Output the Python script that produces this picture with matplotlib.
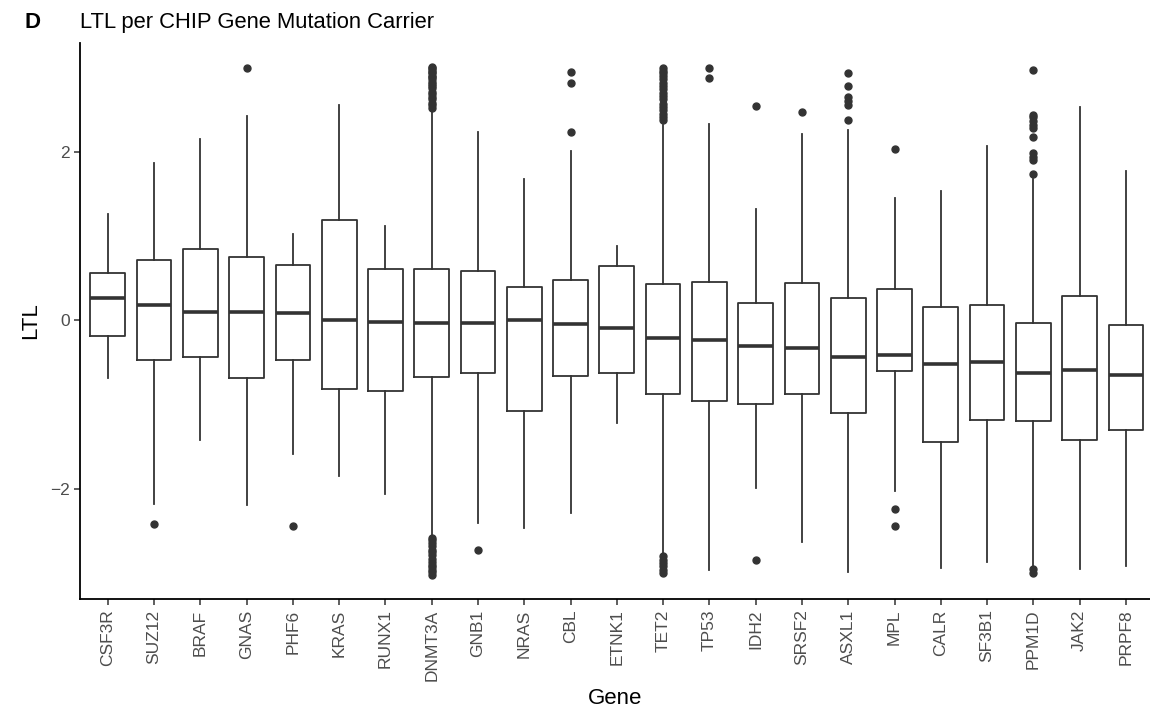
import matplotlib.pyplot as plt

plt.rcParams["font.family"] = ["Liberation Sans", "DejaVu Sans"]

genes = ["CSF3R", "SUZ12", "BRAF", "GNAS", "PHF6", "KRAS", "RUNX1", "DNMT3A",
         "GNB1", "NRAS", "CBL", "ETNK1", "TET2", "TP53", "IDH2", "SRSF2",
         "ASXL1", "MPL", "CALR", "SF3B1", "PPM1D", "JAK2", "PRPF8"]

whis_low = [-0.69, -2.18, -1.42, -2.19, -1.59, -1.85, -2.06, -2.55,
            -2.40, -2.46, -2.28, -1.22, -2.78, -2.96, -1.99, -2.63,
            -2.99, -2.02, -2.94, -2.87, -2.92, -2.95, -2.92]
q1 = [-0.19, -0.47, -0.43, -0.68, -0.475, -0.82, -0.835, -0.675,
      -0.62, -1.08, -0.665, -0.63, -0.87, -0.96, -0.99, -0.88,
      -1.10, -0.605, -1.44, -1.18, -1.195, -1.42, -1.30]
medians = [0.265, 0.185, 0.10, 0.095, 0.09, 0.0, -0.02, -0.03,
           -0.036, 0.0, -0.05, -0.095, -0.21, -0.23, -0.30, -0.325,
           -0.44, -0.41, -0.52, -0.50, -0.62, -0.59, -0.65]
q3 = [0.56, 0.71, 0.84, 0.75, 0.66, 1.19, 0.61, 0.61,
      0.59, 0.40, 0.48, 0.64, 0.43, 0.46, 0.20, 0.44,
      0.27, 0.37, 0.16, 0.18, -0.03, 0.29, -0.055]
whis_high = [1.26, 1.87, 2.15, 2.42, 1.02, 2.55, 1.12, 2.49,
             2.23, 1.68, 2.01, 0.88, 2.32, 2.33, 1.32, 2.21,
             2.26, 1.45, 1.53, 2.07, 1.68, 2.53, 1.775]

outliers = {
    "SUZ12": [-2.42],
    "GNAS": [2.99],
    "PHF6": [-2.44],
    "DNMT3A": [2.52, 2.55, 2.58, 2.62, 2.65, 2.68, 2.71, 2.75, 2.78, 2.80,
               2.83, 2.86, 2.88, 2.90, 2.93, 2.95, 2.97, 2.99, 3.01,
               -2.58, -2.61, -2.64, -2.68, -2.72, -2.75, -2.79, -2.83,
               -2.87, -2.90, -2.93, -2.96, -2.99, -3.02],
    "GNB1": [-2.73],
    "CBL": [2.94, 2.81, 2.23],
    "TET2": [2.38, 2.41, 2.45, 2.49, 2.53, 2.57, 2.62, 2.66, 2.70, 2.74,
             2.78, 2.82, 2.86, 2.90, 2.93, 2.96, 2.99,
             -2.80, -2.84, -2.88, -2.92, -2.96, -3.0],
    "TP53": [2.99, 2.87],
    "IDH2": [2.54, -2.84],
    "SRSF2": [2.47],
    "ASXL1": [2.93, 2.78, 2.65, 2.60, 2.55, 2.37],
    "MPL": [2.03, -2.24, -2.44],
    "PPM1D": [2.97, 2.44, 2.41, 2.36, 2.32, 2.28, 2.17, 1.98, 1.94, 1.90,
              1.74, -2.95, -3.0],
}

stats = []
for i, g in enumerate(genes):
    stats.append({
        "label": g,
        "whislo": whis_low[i],
        "q1": q1[i],
        "med": medians[i],
        "q3": q3[i],
        "whishi": whis_high[i],
        "fliers": outliers.get(g, []),
    })

fig = plt.figure(figsize=(11.5, 7.1), dpi=100)
ax = fig.add_axes([80 / 1150, 1 - 599 / 710, 1070 / 1150, (599 - 43) / 710])

line_col = "#333333"
ax.bxp(stats, positions=range(len(genes)), widths=0.75, showcaps=False,
       boxprops=dict(color=line_col, linewidth=1.3),
       whiskerprops=dict(color=line_col, linewidth=1.3),
       medianprops=dict(color=line_col, linewidth=2.6, solid_capstyle="butt"),
       flierprops=dict(marker="o", markersize=5, markerfacecolor=line_col,
                       markeredgecolor=line_col, linestyle="none"))

ax.set_xlim(-0.6, 22.52)
ax.set_ylim(-3.306, 3.289)
ax.set_yticks([-2, 0, 2])
ax.set_yticklabels(["\u22122", "0", "2"])
ax.set_xticks(range(len(genes)))
ax.set_xticklabels(genes, rotation=90)

for s in ["top", "right"]:
    ax.spines[s].set_visible(False)
for s in ["left", "bottom"]:
    ax.spines[s].set_linewidth(1.3)
    ax.spines[s].set_color("black")

ax.tick_params(axis="both", length=4.5, width=1.1, color=line_col,
               labelcolor="#4D4D4D", labelsize=12.5, pad=3)

ax.set_xlabel("Gene", fontsize=16, labelpad=5)
ax.set_ylabel("LTL", fontsize=16, labelpad=6)

fig.text(80 / 1150, 1 - 28 / 710, "LTL per CHIP Gene Mutation Carrier",
         fontsize=15.8, va="baseline", ha="left")
fig.text(24 / 1150, 1 - 28 / 710, "D", fontsize=16, fontweight="bold",
         va="baseline", ha="left")

fig.savefig("out.png", dpi=100)
